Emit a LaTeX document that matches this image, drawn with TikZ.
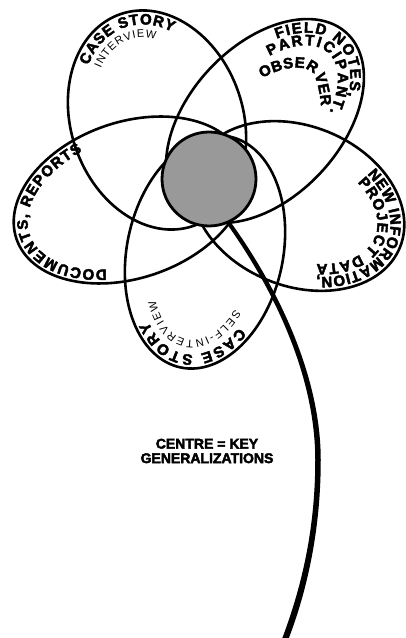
\documentclass[tikz,border=0pt]{standalone}
\usepackage{fontspec}
\setmainfont{Liberation Sans}
\newfontfamily\heavyfont{Liberation Sans}[BoldFeatures={FakeBold=3}]
\usetikzlibrary{decorations.text}
\newcommand{\bigtxt}{\fontsize{15}{15}\selectfont\heavyfont\bfseries}
\newcommand{\smalltxt}{\fontsize{11}{11}\selectfont}
\begin{document}
\begin{tikzpicture}[x=1pt,y=1pt,
  petal/.style={line width=2.6pt},
  txt/.style={decorate, decoration={text along path, text align={fit to path}, text={#1}}}]
\useasboundingbox (0,0) rectangle (406,638);
% petal 1: case story / interview
\begin{scope}[shift={(157,518)}, rotate=109]
  \draw[petal] (0,0) ellipse [x radius=112pt, y radius=86pt];
  \path[txt={|\bigtxt|CASE STORY}] (41:98pt and 72pt) arc[start angle=41, end angle=-37, x radius=98pt, y radius=72pt];
  \path[txt={|\smalltxt|INTERVIEW}] (38:85pt and 59pt) arc[start angle=38, end angle=-25, x radius=85pt, y radius=59pt];
\end{scope}
% petal 2: field notes
\begin{scope}[shift={(265,517)}, rotate=47]
  \draw[petal] (0,0) ellipse [x radius=120pt, y radius=76pt];
  \path[txt={|\bigtxt|FIELD NOTES,}] (50:106pt and 62pt) arc[start angle=50, end angle=-45, x radius=106pt, y radius=62pt];
  \path[txt={|\bigtxt|PARTICIPANT.}] (57:93pt and 49pt) arc[start angle=57, end angle=-57, x radius=93pt, y radius=49pt];
\end{scope}
\path[txt={|\bigtxt|OBSERVER}] (262,560) .. controls (290,575) and (310,572) .. (315,562)
  .. controls (318,553) and (320,545) .. (321,532);
% petal 3: new information
\begin{scope}[shift={(298,432)}, rotate=-22]
  \draw[petal] (0,0) ellipse [x radius=110pt, y radius=80pt];
  \path[txt={|\bigtxt|NEW INFORMATION,}] (57:96pt and 66pt) arc[start angle=57, end angle=-63, x radius=96pt, y radius=66pt];
  \path[txt={|\bigtxt|PROJECT DATA}] (56:83pt and 53pt) arc[start angle=56, end angle=-62, x radius=83pt, y radius=53pt];
\end{scope}
% petal 4: case story / self-interview
\begin{scope}[shift={(205,386)}, rotate=78]
  \draw[petal] (0,0) ellipse [x radius=118pt, y radius=78pt];
  \path[txt={|\bigtxt|CASE STORY}] (230:104pt and 64pt) arc[start angle=230, end angle=140, x radius=104pt, y radius=64pt];
  \path[txt={|\smalltxt|SELF-INTERVIEW}] (236:90pt and 50pt) arc[start angle=236, end angle=130, x radius=90pt, y radius=50pt];
\end{scope}
% petal 5: documents, reports
\begin{scope}[shift={(130,438)}, rotate=19]
  \draw[petal] (0,0) ellipse [x radius=120pt, y radius=78pt];
  \path[txt={|\bigtxt|DOCUMENTS, REPORTS}] (245:106pt and 64pt) arc[start angle=245, end angle=106, x radius=106pt, y radius=64pt];
\end{scope}
% stem (tapered), drawn under the centre
\fill (226.4,414.8) .. controls (268.1,356.6) and (315.25,268) .. (315.25,178)
  .. controls (315.25,98) and (297,39.2) .. (282,-1)
  -- (288.5,-1) .. controls (303,36.8) and (320.75,98) .. (320.75,178)
  .. controls (320.75,268) and (271.9,359.4) .. (229.6,417.2) -- cycle;
% centre
\node[circle, draw, line width=2.8pt, fill=gray!80, minimum size=94pt, inner sep=0pt] (core) at (209,459) {};
\node[align=center, font=\heavyfont\bfseries\fontsize{14}{14.5}\selectfont] (label) at (207,187) {CENTRE = KEY\\GENERALIZATIONS};
\end{tikzpicture}
\end{document}
